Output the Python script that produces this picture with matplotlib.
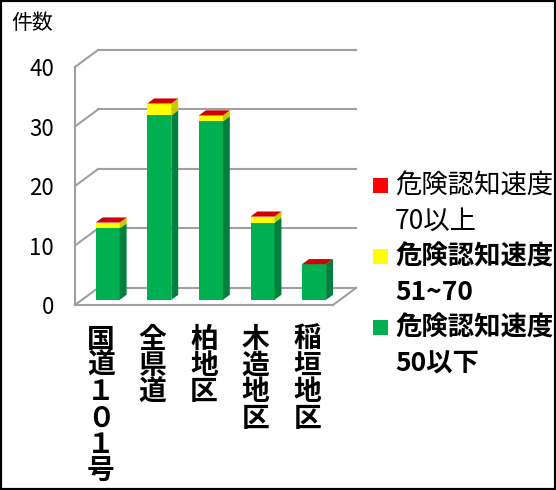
import matplotlib
matplotlib.use('Agg')
import matplotlib.pyplot as plt
from matplotlib.patches import Polygon, Rectangle

plt.rcParams['font.family'] = ['Noto Sans CJK JP', 'DejaVu Sans']

# データ
categories = ['国道１０１号', '全県道', '柏地区', '木造地区', '稲垣地区']
green = [12, 31, 30, 13, 6]    # 危険認知速度50以下
yellow = [1, 2, 1, 1, 0]       # 危険認知速度51~70
red = [0, 0, 0, 0, 0]          # 危険認知速度70以上
series = [green, yellow, red]
series_names = ['危険認知速度\n50以下', '危険認知速度\n51~70', '危険認知速度\n70以上']
front_colors = ['#00B050', '#FFFF00', '#FF0000']
side_colors = ['#00803C', '#C8C800', '#B00000']
top_color = '#D00000'
yticks = [0, 10, 20, 30, 40]

W, H = 556, 490
fig = plt.figure(figsize=(W / 100, H / 100), dpi=100)
ax = fig.add_axes([75 / W, (H - 305) / H, 258 / W, 238 / H])
ax.set_xlim(-0.5, 4.5)
ax.set_ylim(0, 40)

# 奥行き (擬似3D)
DX, DY = 0.446, 2.86
d0, d1 = 0.3, 0.6
bw = 0.465
grid_c = '#A0A0A0'

# 壁・床
for v in yticks:
    ax.plot([-0.5 + DX, 4.5 + DX], [v + DY, v + DY], color=grid_c, lw=1.5, clip_on=False, zorder=1)
    ax.plot([-0.5, -0.5 + DX], [v, v + DY], color=grid_c, lw=1.5, clip_on=False, zorder=1)
ax.plot([-0.5, -0.5], [0, 40], color=grid_c, lw=1.5, clip_on=False, zorder=1)
ax.plot([-0.5, 4.5], [0, 0], color=grid_c, lw=1.5, clip_on=False, zorder=1)
ax.plot([4.5, 4.5 + DX], [0, DY], color=grid_c, lw=1.5, clip_on=False, zorder=1)

# 棒
xs = list(range(len(categories)))
bottoms = [0] * len(categories)
ddx, ddy = (d1 - d0) * DX, (d1 - d0) * DY
for vals, fc, sc in zip(series, front_colors, side_colors):
    ax.bar([x + d0 * DX for x in xs], vals, bottom=[b + d0 * DY for b in bottoms],
           width=bw, color=fc, zorder=3, clip_on=False)
    for x, b, v in zip(xs, bottoms, vals):
        if v <= 0:
            continue
        xr = x + d0 * DX + bw / 2
        yb = b + d0 * DY
        ax.add_patch(Polygon([(xr, yb), (xr, yb + v), (xr + ddx, yb + v + ddy), (xr + ddx, yb + ddy)],
                             closed=True, facecolor=sc, edgecolor='none', zorder=3, clip_on=False))
    bottoms = [b + v for b, v in zip(bottoms, vals)]

for x, t in zip(xs, bottoms):
    xl = x + d0 * DX - bw / 2
    xr = xl + bw
    yt = t + d0 * DY
    ax.add_patch(Polygon([(xl, yt), (xr, yt), (xr + ddx, yt + ddy), (xl + ddx, yt + ddy)],
                         closed=True, facecolor=top_color, edgecolor='none', zorder=4, clip_on=False))

# 軸
for s in ax.spines.values():
    s.set_visible(False)
ax.set_yticks(yticks)
ax.set_yticklabels([str(v) for v in yticks], fontsize=16)
ax.set_xticks(xs)
ax.set_xticklabels(['\n'.join(c) for c in categories], fontsize=20, fontweight='bold',
                   linespacing=0.92)
ax.tick_params(axis='y', length=0, pad=15)
ax.tick_params(axis='x', length=0, pad=15)

fig.text(11 / W, 1 - 23 / H, '件数', fontsize=15, va='center', ha='left')

# 凡例
legend_order = [2, 1, 0]
weights = ['normal', 'bold', 'bold']
line_y = 186
for i, k in enumerate(legend_order):
    fig.patches.append(Rectangle((373 / W, 1 - (line_y + 7) / H), 15 / W, 15 / H,
                                 transform=fig.transFigure, facecolor=front_colors[k],
                                 edgecolor='none'))
    for line in series_names[k].split('\n'):
        fig.text(395 / W, 1 - line_y / H, line, fontsize=19, fontweight=weights[i],
                 va='center', ha='left')
        line_y += 35.6

fig.patches.append(Rectangle((0, 0), 1, 1, transform=fig.transFigure, fill=False,
                             edgecolor='black', lw=3))

fig.savefig('out.png', dpi=100)
